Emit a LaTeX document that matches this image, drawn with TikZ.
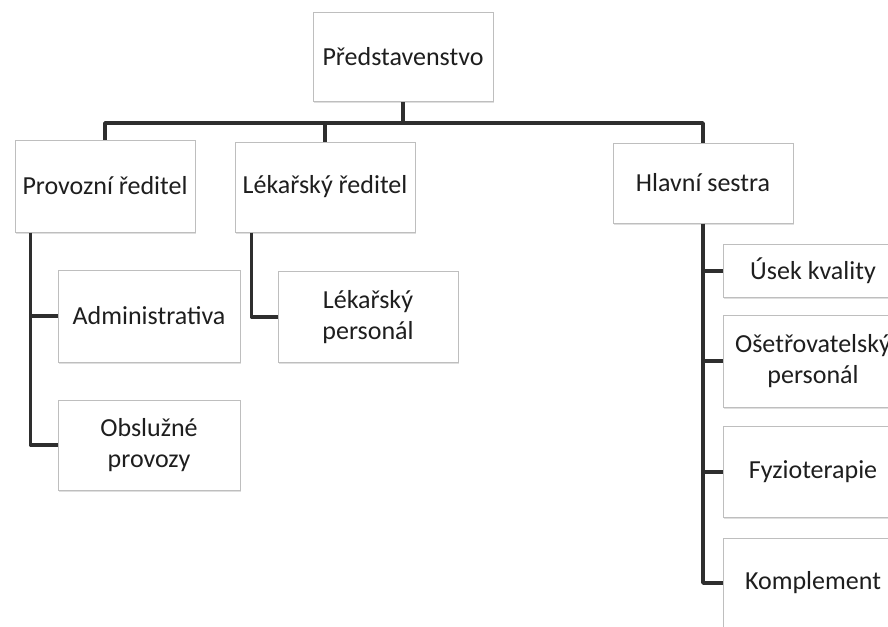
\documentclass[tikz,border=0pt]{standalone}
\usepackage{fontspec}
\setmainfont{Carlito}
\usepackage{xcolor}
\usepackage{tikz}
\definecolor{linegray}{RGB}{46, 46, 46}
\definecolor{boxgray}{RGB}{190, 190, 190}
\definecolor{textgray}{RGB}{30, 30, 30}
\usetikzlibrary{shadows,calc}

\begin{document}
\begin{tikzpicture}[
    x=1pt, y=-1pt,
    unit/.style={
        rectangle,
        minimum width=180pt,
        minimum height=90pt,
        align=center,
        font=\fontsize{26}{31}\selectfont,
        text=textgray,
        fill=white,
        draw=boxgray,
        line width=1pt,
        drop shadow={shadow xshift=1pt, shadow yshift=-1.5pt, opacity=0.25}
    },
    link/.style={line width=3.5pt, linegray, line join=round}
]
    \path[use as bounding box, fill=white] (0,0) rectangle (888,626);
    \clip (0,0) rectangle (888,626);

    % Board
    \node[unit, minimum height=89pt] (board) at (403,57) {Představenstvo};

    % Directors
    \node[unit, minimum height=92pt] (prov) at (105,186) {Provozní ředitel};
    \node[unit] (lek) at (325,187) {Lékařský ředitel};
    \node[unit, minimum height=80pt] (nurse) at (703,183) {Hlavní sestra};

    % Departments
    \node[unit, minimum width=182pt, minimum height=92pt] (admin) at (149,316) {Administrativa};
    \node[unit, minimum width=182pt] (obsl) at (149,445) {Obslužné\\provozy};
    \node[unit, minimum height=91pt] (lekpers) at (368,317) {Lékařský\\personál};
    \node[unit, minimum height=53pt] (usek) at (813,271) {Úsek kvality};
    \node[unit, minimum height=92pt] (oset) at (813,361) {Ošetřovatelský\\personál};
    \node[unit, minimum height=91pt] (fyzio) at (813,472) {Fyzioterapie};
    \node[unit] (kompl) at (813,583) {Komplement};

    % Top bus
    \coordinate (bus) at (0,123);
    \draw[link] (prov.north) -- (prov.north |- bus) -- (nurse.north |- bus) -- (nurse.north);
    \draw[link] (board.south) -- (board.south |- bus);
    \draw[link] (lek.north) -- (lek.north |- bus);

    % Provozni branch
    \coordinate (provrail) at ([xshift=16pt]prov.south west);
    \draw[link] (provrail) |- (obsl.west);
    \draw[link] (provrail |- admin.west) -- (admin.west);

    % Lekarsky branch
    \draw[link] ([xshift=17pt]lek.south west) |- (lekpers.west);

    % Nurse branch
    \draw[link] (nurse.south) |- (kompl.west);
    \foreach \dept in {usek, oset, fyzio}
        \draw[link] (nurse.south |- \dept.west) -- (\dept.west);
\end{tikzpicture}
\end{document}
